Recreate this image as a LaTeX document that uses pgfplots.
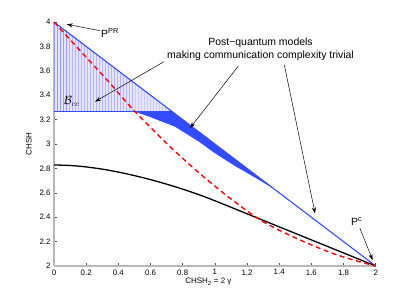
\documentclass[border=0pt]{standalone}
\usepackage{fontspec}
\setmainfont{Liberation Sans}
\usepackage{pgfplots}
\pgfplotsset{compat=1.18}
\usetikzlibrary{patterns,arrows.meta}
\definecolor{bl}{rgb}{0.2,0.3,1}
\definecolor{axgray}{rgb}{0.72,0.72,0.72}
\begin{document}
\begin{tikzpicture}
\begin{axis}[
  scale only axis, width=321.7bp, height=244bp,
  xmin=0, xmax=2, ymin=2, ymax=4,
  axis x line=bottom, axis y line=left,
  axis line style={axgray, line width=1.6pt, -},
  tick align=inside, major tick length=3bp,
  tick style={black!70, line width=0.5pt},
  xtick={0,0.2,0.4,0.6,0.8,1,1.2,1.4,1.6,1.8,2},
  ytick={2,2.2,2.4,2.6,2.8,3,3.2,3.4,3.6,3.8,4},
  /pgf/number format/assume math mode=true,
  ticklabel style={font=\fontsize{7.9}{9}\selectfont},
  label style={font=\fontsize{8}{9}\selectfont},
  xlabel={CHSH\textsubscript{2} = 2 γ},
  ylabel={CHSH},
  xlabel style={at={(axis description cs:0.48,-0.064)}, anchor=center},
  ylabel style={at={(axis description cs:-0.078,0.5)}, anchor=center},
  clip=false,
]
\coordinate (o) at (rel axis cs:0,0);
% hatched region
\addplot[draw=none, fill=blue!10] coordinates {(0,4) (0.734,3.266) (0,3.266)} -- cycle;
\addplot[draw=none, pattern=vertical lines, pattern color=blue!40] coordinates {(0,4) (0.734,3.266) (0,3.266)} -- cycle;
\addplot[bl, line width=0.7pt] coordinates {(0,3.266) (0.734,3.266)};
% band
\addplot[draw=none, fill=bl] coordinates {
 (0.5,3.266) (0.734,3.266) (1.37,2.63)
 (1.25,2.725) (1.125,2.82) (1.0,2.925) (0.9,3.02) (0.752,3.142) (0.6,3.22) (0.5,3.266)} -- cycle;
% blue line
\addplot[bl, line width=1.1pt] coordinates {(0,4) (2,2)};
% black curve
\addplot[black, line width=1.3pt, smooth] coordinates {
 (0,2.828) (0.1,2.824) (0.2,2.812) (0.3,2.794) (0.4,2.77) (0.5,2.741) (0.6,2.708)
 (0.7,2.671) (0.8,2.63) (0.9,2.585) (1.0,2.535) (1.2,2.428) (1.4,2.321) (1.6,2.214) (1.8,2.107) (2,2)};
% red dashed
\addplot[red, line width=1.4pt, dash pattern=on 5bp off 3.5bp, smooth] coordinates {
 (0,4) (0.18,3.74) (0.33,3.525) (0.5,3.27) (0.72,2.98) (0.91,2.754) (1.1,2.55)
 (1.3,2.363) (1.53,2.213) (1.74,2.10) (1.9,2.035) (2,2)};
% annotations
\node[font=\fontsize{10.5}{12}\selectfont] at (axis cs:0.348,3.91) {P\textsuperscript{PR}};
\draw[-{Stealth[length=6bp,width=4bp]}, line width=0.5pt] (axis cs:0.286,3.929) -- (axis cs:0.079,3.981);
\node[font=\fontsize{10.5}{12.5}\selectfont, align=center] at (axis cs:1.284,3.775) {Post−quantum models\\making communication complexity trivial};
\draw[-{Stealth[length=6bp,width=4bp]}, line width=0.5pt] (axis cs:0.684,3.675) -- (axis cs:0.255,3.347);
\draw[-{Stealth[length=6bp,width=4bp]}, line width=0.5pt] (axis cs:1.146,3.639) -- (axis cs:0.846,3.131);
\draw[-{Stealth[length=6bp,width=4bp]}, line width=0.5pt] (axis cs:1.432,3.648) -- (axis cs:1.623,2.432);
\node[font=\fontsize{10.5}{12}\selectfont] at (axis cs:1.882,2.363) {P\textsuperscript{c}};
\draw[-{Stealth[length=6bp,width=4bp]}, line width=0.5pt] (axis cs:1.902,2.309) -- (axis cs:1.981,2.049);
\node at (axis cs:0.11,3.347) {\fontsize{12}{14}\selectfont$\mathcal{B}_{cc}$};
\end{axis}
\pgfresetboundingbox
\path ([shift={(-54bp,-34bp)}]o) rectangle ([shift={(361bp,266bp)}]o);
\end{tikzpicture}
\end{document}
